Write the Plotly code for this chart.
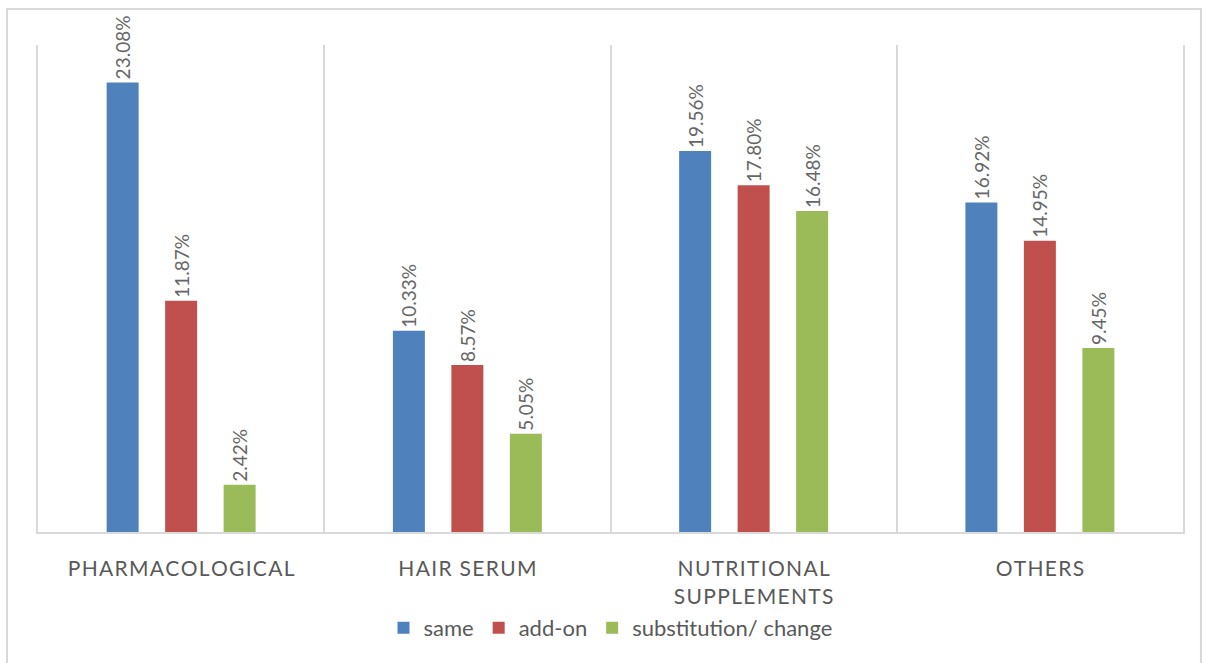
import plotly.graph_objects as go

categories = ["PHARMACOLOGICAL", "HAIR SERUM", "NUTRITIONAL<br>SUPPLEMENTS", "OTHERS"]
series_names = ["same", "add-on", "substitution/ change"]
same_vals = [23.08, 10.33, 19.56, 16.92]
addon_vals = [11.87, 8.57, 17.80, 14.95]
subst_vals = [2.42, 5.05, 16.48, 9.45]
colors = ["#4F81BD", "#C0504D", "#9BBB59"]

GRID = "#D9D9D9"
TXT = "#595959"
FONT = "Lato"


def spaced(label):
    parts = label.split("<br>")
    return "<br>".join("\u200a".join(list(p)) for p in parts)


tick_labels = [spaced(c) for c in categories]

fig = go.Figure()
for name, vals, col in zip(series_names, [same_vals, addon_vals, subst_vals], colors):
    fig.add_trace(go.Bar(
        name=name,
        x=tick_labels,
        y=vals,
        marker=dict(color=col, line=dict(width=0)),
        texttemplate="%{y:.2f}%",
        textposition="outside",
        textangle=-90,
        textfont=dict(family=FONT, size=19, color="#666666"),
        constraintext="none",
        cliponaxis=False,
    ))

fig.update_layout(
    width=1210, height=663,
    margin=dict(l=38, r=27, t=45, b=131),
    paper_bgcolor="white",
    plot_bgcolor="white",
    barmode="group",
    bargap=0.387,
    bargroupgap=0.453,
    font=dict(family=FONT, color=TXT),
    showlegend=True,
    legend=dict(
        orientation="h",
        x=0.5, xanchor="center",
        y=-0.197, yanchor="middle",
        font=dict(family=FONT, size=22, color=TXT),
        itemwidth=30,
        tracegroupgap=0,
    ),
    xaxis=dict(
        type="category",
        tickson="boundaries",
        showgrid=True,
        gridcolor=GRID,
        gridwidth=2,
        showline=True,
        linecolor=GRID,
        linewidth=2,
        ticks="",
        ticklabelstandoff=17,
        tickfont=dict(family=FONT, size=21, color=TXT),
    ),
    yaxis=dict(
        range=[0, 25],
        showgrid=False,
        showticklabels=False,
        ticks="",
        zeroline=False,
        showline=True,
        mirror=True,
        linecolor=GRID,
        linewidth=2,
    ),
    shapes=[dict(
        type="rect", xref="paper", yref="paper",
        x0=-0.0271, x1=1.0157, y0=-0.3, y1=1.074,
        line=dict(color=GRID, width=2), fillcolor="rgba(0,0,0,0)", layer="below",
    )],
)

fig.write_html("out.html")
